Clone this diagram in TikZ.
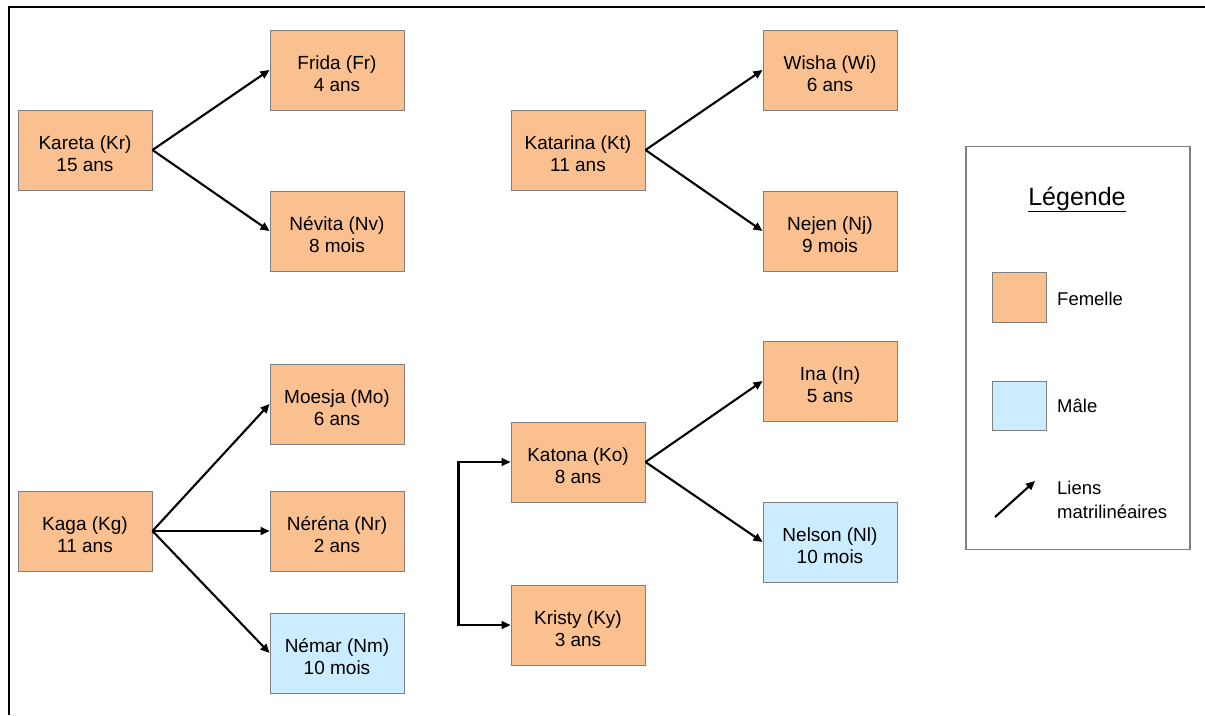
\documentclass[tikz,border=0pt]{standalone}
\usepackage{fontspec}
\setmainfont{Liberation Sans}
\usetikzlibrary{arrows.meta,positioning}
\definecolor{inkpeach}{HTML}{FAC090}
\definecolor{inksky}{HTML}{CCECFF}
\definecolor{inkedge}{HTML}{7F7F7F}
\tikzset{female/.style={rectangle,draw=inkedge,fill=inkpeach,line width=1pt,minimum width=134pt,minimum height=80pt,inner sep=0pt,align=center,font=\fontsize{19}{21.5}\selectfont,text height=42pt,text depth=0pt},male/.style={female,fill=inksky},lineage/.style={-{Triangle[length=9pt,width=8pt]},line width=2.1pt},label/.style={anchor=base west,inner sep=0pt,font=\fontsize{18.5}{24}\selectfont},every picture/.style={line cap=butt}}
\begin{document}
\begin{tikzpicture}[x=1pt,y=-1pt]
\useasboundingbox (0,0) rectangle (1205,715);
\draw[line width=2pt] (9,715)--(9,7)--(1205,7);
% Kareta
\node[female] (kr) at (85,150) {Kareta (Kr)\\15 ans};
\node[female] (fr) at (337,70) {Frida (Fr)\\4 ans};
\node[female] (nv) at (337,231) {Névita (Nv)\\8 mois};
% Katarina
\node[female] (kt) at (578,150) {Katarina (Kt)\\11 ans};
\node[female] (wi) at (830,70) {Wisha (Wi)\\6 ans};
\node[female] (nj) at (830,231) {Nejen (Nj)\\9 mois};
% Kaga
\node[female] (kg) at (85,531) {Kaga (Kg)\\11 ans};
\node[female] (mo) at (337,404) {Moesja (Mo)\\6 ans};
\node[female] (nr) at (337,531) {Néréna (Nr)\\2 ans};
\node[male] (nm) at (337,653) {Némar (Nm)\\10 mois};
% Katona
\node[female] (ko) at (578,462) {Katona (Ko)\\8 ans};
\node[female] (ky) at (578,625) {Kristy (Ky)\\3 ans};
\node[female] (ina) at (830,381) {Ina (In)\\5 ans};
\node[male] (nl) at (830,542) {Nelson (Nl)\\10 mois};
\foreach \a/\b in {kr/fr,kr/nv,kt/wi,kt/nj,kg/mo,kg/nr,kg/nm,ko/ina,ko/nl}{\draw[lineage] (\a.east)--(\b.west);}
\draw[lineage,{Triangle[length=9pt,width=8pt]}-{Triangle[length=9pt,width=8pt]}] (ko.west)--++(-52,0)|-(ky.west);
% legend
\node[draw=inkedge,line width=1.2pt,minimum width=224pt,minimum height=403pt,inner sep=0pt] (lg) at (1078,348) {};
\node[anchor=base,inner sep=0pt,font=\fontsize{25}{28}\selectfont] (lt) at (1077,205) {\underline{Légende}};
\node[female,minimum width=54pt,minimum height=50pt,text height=0pt] (lf) at (1019,297) {};
\node[male,minimum width=54pt,minimum height=49pt,text height=0pt] (lm) at (1019,406) {};
\node[label] (tf) at (1057,305) {Femelle};
\node[label] (tm) at (1057,412) {Mâle};
\node[label,align=left,anchor=west] (tl) at (1057,500) {Liens\\matrilinéaires};
\coordinate (la) at (995,517);
\coordinate (lb) at (1035,481);
\draw[lineage] (la)--(lb);
\end{tikzpicture}
\end{document}
